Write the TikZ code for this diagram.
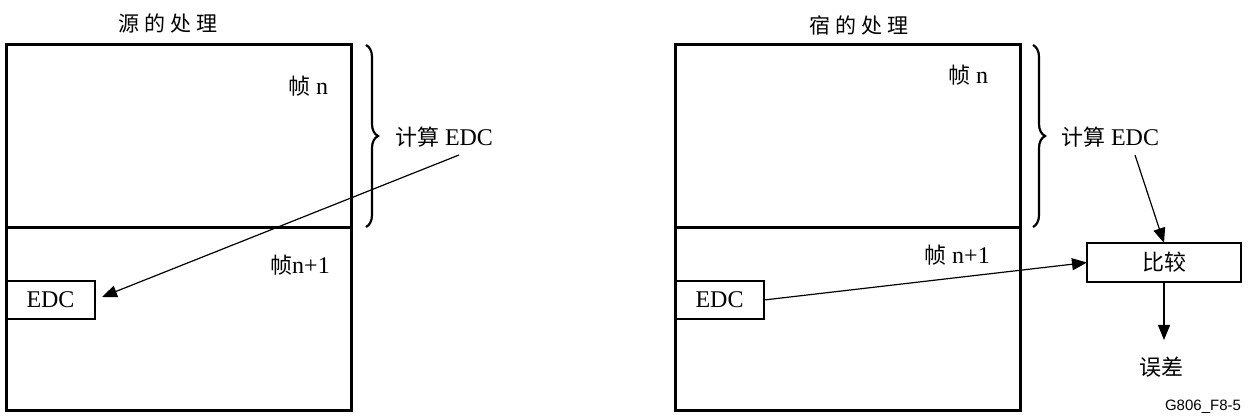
\documentclass[tikz,border=0pt]{standalone}
\usepackage{fontspec}
\setmainfont{Liberation Serif}
\newfontfamily\cjk{Noto Sans CJK SC}
\newfontfamily\arialf{Liberation Sans}
\usetikzlibrary{arrows.meta,calc,decorations.pathreplacing}
\begin{document}
\begin{tikzpicture}[x=1pt,y=-1pt,
  lbl/.style={font=\fontsize{24}{28}\selectfont, inner sep=0pt},
  ttl/.style={font=\cjk\fontsize{21}{24}\selectfont, inner sep=0pt},
  frame/.style={draw, line width=3pt, inner sep=0pt, outer sep=0pt},
  smallbox/.style={draw, line width=2.5pt, inner sep=0pt, outer sep=0pt, font=\fontsize{24}{28}\selectfont},
  arr/.style={-{Triangle[length=15pt,width=12pt]}, line width=1.2pt},
  bracestyle/.style={decorate, decoration={brace, amplitude=12pt}, line width=2.2pt}
]
\useasboundingbox (0,0) rectangle (1252,419);

% ---------- left panel ----------
\node[ttl] (t1) at (168,23) {源\hspace{5pt}的\hspace{5pt}处\hspace{5pt}理};
\node[frame, minimum width=345pt, minimum height=183pt, anchor=north west] (fa1) at (6,45) {};
\node[frame, minimum width=345pt, minimum height=182pt, anchor=north west] (fb1) at (6,228) {};
\node[lbl] (n1) at (308,86) {{\cjk\fontsize{22}{26}\selectfont 帧} n};
\node[lbl] (m1) at (300,265) {{\cjk\fontsize{22}{26}\selectfont 帧}n+1};
\node[smallbox, minimum width=89pt, minimum height=38pt, anchor=north west] (edc1) at (6,281) {EDC};
\draw[bracestyle] (366,45) -- (366,227);
\node[lbl] (c1) at (444,137) {{\cjk\fontsize{22}{26}\selectfont 计算} EDC};
\coordinate (s1) at (459,155);
\draw[arr] (s1) -- ($(edc1.east)+(7,-3)$);

% ---------- right panel ----------
\node[ttl] (t2) at (859,25) {宿\hspace{5pt}的\hspace{5pt}处\hspace{5pt}理};
\node[frame, minimum width=345pt, minimum height=183pt, anchor=north west] (fa2) at (675,45) {};
\node[frame, minimum width=345pt, minimum height=182pt, anchor=north west] (fb2) at (675,228) {};
\node[lbl] (n2) at (968,75) {{\cjk\fontsize{22}{26}\selectfont 帧} n};
\node[lbl] (m2) at (957,255) {{\cjk\fontsize{22}{26}\selectfont 帧} n+1};
\node[smallbox, minimum width=89pt, minimum height=38pt, anchor=north west] (edc2) at (675,281) {EDC};
\draw[bracestyle] (1033,45) -- (1033,227);
\node[lbl] (c2) at (1110,137) {{\cjk\fontsize{22}{26}\selectfont 计算} EDC};
\node[smallbox, minimum width=154pt, minimum height=39pt, anchor=north west, font=\cjk\fontsize{22}{26}\selectfont] (cmp) at (1087,243) {比较};
\coordinate (s2) at (1135,155);
\draw[arr] (s2) -- (cmp.north);
\draw[arr] (edc2.east) -- (cmp.west);
\node[ttl, font=\cjk\fontsize{22}{26}\selectfont] (err) at (1161,367) {误差};
\coordinate (e4) at (cmp.south |- 0,340);
\draw[arr] (cmp.south) -- (e4);
\node[inner sep=0pt, font=\arialf\fontsize{15}{18}\selectfont] (id) at (1203,407) {G806\_F8-5};
\end{tikzpicture}
\end{document}
